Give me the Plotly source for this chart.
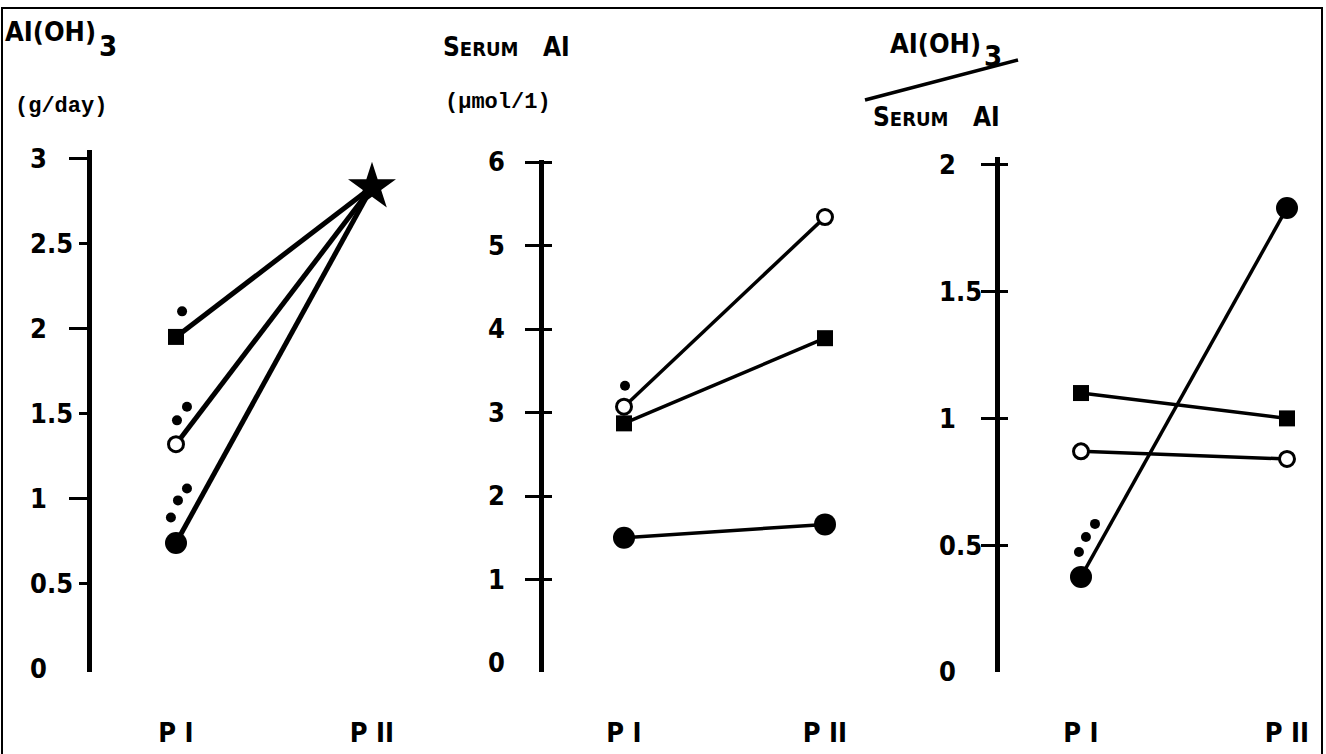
import plotly.graph_objects as go

W, H = 1326, 754

# ---------------- data ----------------
categories = ["P I", "P II"]

# Panel 1: Al(OH)3 dose (g/day)
dose_square = [1.95, 2.83]
dose_open = [1.32, 2.83]
dose_filled = [0.74, 2.83]
dose_ticks = [0, 0.5, 1, 1.5, 2, 2.5, 3]
dose_ticktext = ["0", "0.5", "1", "1.5", "2", "2.5", "3"]

# Panel 2: serum Al (umol/l)
serum_square = [2.87, 3.89]
serum_open = [3.07, 5.34]
serum_filled = [1.50, 1.66]
serum_ticks = [0, 1, 2, 3, 4, 5, 6]
serum_ticktext = ["0", "1", "2", "3", "4", "5", "6"]

# Panel 3: Al(OH)3 / serum Al
ratio_square = [1.10, 1.00]
ratio_open = [0.87, 0.84]
ratio_filled = [0.375, 1.83]
ratio_ticks = [0, 0.5, 1, 1.5, 2]
ratio_ticktext = ["0", "0.5", "1", "1.5", "2"]

# small group dots drawn beside the P I markers (x = category index + offset)
dose_dot_x = [0.031, 0.005, 0.056, -0.026, 0.010, 0.056]
dose_dot_y = [2.10, 1.46, 1.54, 0.89, 0.99, 1.06]
serum_dot_x = [0.005]
serum_dot_y = [3.32]
ratio_dot_x = [-0.010, 0.024, 0.068]
ratio_dot_y = [0.473, 0.532, 0.584]

# ---------------- layout geometry (pixels) ----------------
panels = [
    dict(px_left=92, px_cat0=176, px_cat1=372, px_right=405, px_top=150, px_bot=672,
         zero_px=669, unit_px=170.3, label_left=31, ticks=dose_ticks, ticktext=dose_ticktext,
         lw=5),
    dict(px_left=544, px_cat0=624, px_cat1=825, px_right=850, px_top=160, px_bot=672,
         zero_px=663, unit_px=83.5, label_left=489, ticks=serum_ticks, ticktext=serum_ticktext,
         lw=3.5),
    dict(px_left=1000, px_cat0=1081, px_cat1=1287, px_right=1315, px_top=157, px_bot=672,
         zero_px=672, unit_px=253.6, label_left=940, ticks=ratio_ticks, ticktext=ratio_ticktext,
         lw=3.5),
]

FONT = "Liberation Sans Narrow, DejaVu Sans Condensed, Liberation Sans, sans-serif"
MONO = "Liberation Mono, DejaVu Sans Mono, monospace"
BLACK = "#000000"

fig = go.Figure()

cat_x = list(range(len(categories)))

series = [
    (dose_square, dose_open, dose_filled, dose_dot_x, dose_dot_y),
    (serum_square, serum_open, serum_filled, serum_dot_x, serum_dot_y),
    (ratio_square, ratio_open, ratio_filled, ratio_dot_x, ratio_dot_y),
]

for i, (sq, op, fi, dx, dy) in enumerate(series):
    n = i + 1
    xa = "x" if n == 1 else f"x{n}"
    ya = "y" if n == 1 else f"y{n}"
    lw = panels[i]["lw"]
    # connecting lines
    for vals in (sq, op, fi):
        fig.add_trace(go.Scatter(x=cat_x, y=vals, mode="lines", xaxis=xa, yaxis=ya,
                                 line=dict(color=BLACK, width=lw), showlegend=False,
                                 hoverinfo="skip"))
    # group dots
    fig.add_trace(go.Scatter(x=dx, y=dy, mode="markers", xaxis=xa, yaxis=ya,
                             marker=dict(color=BLACK, size=10), showlegend=False,
                             cliponaxis=False))
    if n == 1:
        mx = [cat_x[0]]
        sqv, opv, fiv = [sq[0]], [op[0]], [fi[0]]
    else:
        mx = cat_x
        sqv, opv, fiv = sq, op, fi
    fig.add_trace(go.Scatter(x=mx, y=sqv, mode="markers", xaxis=xa, yaxis=ya,
                             marker=dict(symbol="square", color=BLACK, size=16),
                             showlegend=False, cliponaxis=False))
    fig.add_trace(go.Scatter(x=mx, y=opv, mode="markers", xaxis=xa, yaxis=ya,
                             marker=dict(symbol="circle", color="white", size=15,
                                         line=dict(color=BLACK, width=3)),
                             showlegend=False, cliponaxis=False))
    fig.add_trace(go.Scatter(x=mx, y=fiv, mode="markers", xaxis=xa, yaxis=ya,
                             marker=dict(symbol="circle", color=BLACK, size=22),
                             showlegend=False, cliponaxis=False))
    if n == 1:
        fig.add_trace(go.Scatter(x=[cat_x[1]], y=[sq[1]], mode="markers", xaxis=xa, yaxis=ya,
                                 marker=dict(symbol="star", color=BLACK, size=36),
                                 showlegend=False, cliponaxis=False))
    # empty traces so the overlay (label / inner-tick) axes get drawn
    fig.add_trace(go.Scatter(x=[], y=[], xaxis=xa, yaxis=f"y{n + 3}", showlegend=False,
                             hoverinfo="skip"))
    if n > 1:
        fig.add_trace(go.Scatter(x=[], y=[], xaxis=xa, yaxis=f"y{n + 5}", showlegend=False,
                                 hoverinfo="skip"))

layout = dict(
    width=W, height=H, margin=dict(l=0, r=0, t=0, b=0, autoexpand=False),
    paper_bgcolor="white", plot_bgcolor="white", showlegend=False,
    template="none",
)

for i, p in enumerate(panels):
    n = i + 1
    unit = p["px_cat1"] - p["px_cat0"]
    xr = [(p["px_left"] - p["px_cat0"]) / unit, (p["px_right"] - p["px_cat0"]) / unit]
    yr = [(p["zero_px"] - p["px_bot"]) / p["unit_px"], (p["zero_px"] - p["px_top"]) / p["unit_px"]]
    xdom = [p["px_left"] / W, p["px_right"] / W]
    ydom = [1 - p["px_bot"] / H, 1 - p["px_top"] / H]
    xkey = "xaxis" if n == 1 else f"xaxis{n}"
    ykey = "yaxis" if n == 1 else f"yaxis{n}"
    xa = "x" if n == 1 else f"x{n}"
    ya = "y" if n == 1 else f"y{n}"
    layout[xkey] = dict(domain=xdom, range=xr, anchor=ya, showline=False, showgrid=False,
                        zeroline=False, tickmode="array", tickvals=cat_x, ticktext=categories,
                        ticks="", ticklabelstandoff=42, automargin=False,
                        tickfont=dict(family=FONT, size=27, color=BLACK, weight="bold"))
    nonzero = [t for t in p["ticks"] if t != 0]
    ydict = dict(domain=ydom, range=yr, anchor=xa, showline=True, linecolor=BLACK,
                 linewidth=5, showgrid=False, zeroline=False, showticklabels=False,
                 ticks="outside", tickwidth=3, tickcolor=BLACK, tickmode="array",
                 automargin=False)
    if n == 1:
        ydict.update(tickvals=[t for t in nonzero if t == int(t)], ticklen=18,
                     minor=dict(tickmode="array", tickvals=[t for t in nonzero if t != int(t)],
                                ticks="outside", ticklen=8, tickwidth=3, tickcolor=BLACK))
    else:
        ydict.update(tickvals=nonzero, ticklen=14)
    layout[ykey] = ydict
    # tick-label axis (left-aligned labels)
    layout[f"yaxis{n + 3}"] = dict(
        overlaying=ya, side="right", anchor="free", position=(p["label_left"] - 2) / W,
        range=yr, showline=False, showgrid=False, zeroline=False, ticks="",
        tickmode="array", tickvals=p["ticks"], ticktext=p["ticktext"], automargin=False,
        tickfont=dict(family=FONT, size=27, color=BLACK, weight="bold"))
    if n > 1:
        layout[f"yaxis{n + 5}"] = dict(
            overlaying=ya, side="left", anchor=xa, range=yr, showline=False, showgrid=False,
            zeroline=False, showticklabels=False, ticks="inside", ticklen=8, tickwidth=3,
            tickcolor=BLACK, tickmode="array", tickvals=nonzero, automargin=False)

fig.update_layout(**layout)


def ann(text, px, py, size, family=FONT, anchor="left"):
    fig.add_annotation(text=text, xref="paper", yref="paper", x=px / W, y=1 - py / H,
                       xanchor=anchor, yanchor="middle", showarrow=False,
                       font=dict(family=family, size=size, color=BLACK, weight="bold"))


ann("AI(OH)", 98, 32, 27, anchor="right")
ann("3", 97, 46, 29)
ann("(g/day)", 13, 107, 22, MONO)
ann('S<span style="font-size:20px">ERUM</span>\u00a0\u00a0\u00a0AI', 441, 47, 26)
ann("(\u00b5mol/1)", 443, 102, 22, MONO)
ann("AI(OH)", 983, 44, 27, anchor="right")
ann("3", 982, 56, 29)
ann('S<span style="font-size:20px">ERUM</span>\u00a0\u00a0\u00a0AI', 871, 117, 26)

# slanted fraction bar and frame
fig.add_shape(type="line", xref="paper", yref="paper", x0=865 / W, y0=1 - 100 / H,
              x1=1018 / W, y1=1 - 60 / H, line=dict(color=BLACK, width=3.5))
fig.add_shape(type="rect", xref="paper", yref="paper", x0=2 / W, y0=-0.05,
              x1=1322 / W, y1=1 - 8 / H, line=dict(color=BLACK, width=2))

fig.write_html("out.html")
